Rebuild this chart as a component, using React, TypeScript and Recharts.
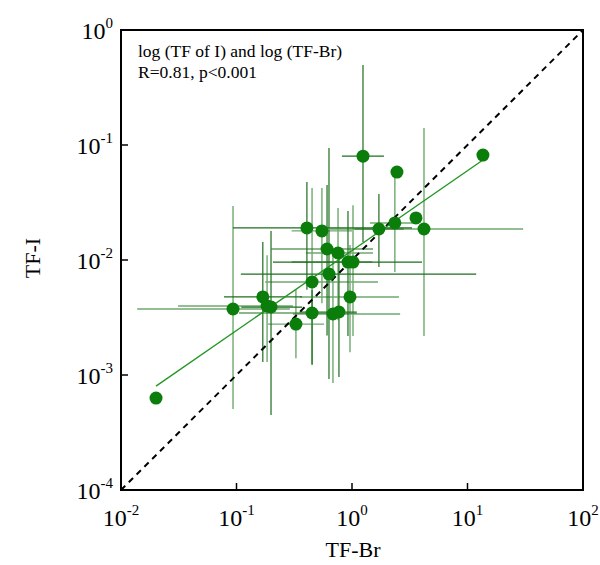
import React from 'react';
import { ScatterChart, Scatter, XAxis, YAxis, ErrorBar, ReferenceLine, ReferenceArea } from 'recharts';

// TF-Br (x) and TF-I (y) for each sample, with error ranges
const tfBr = [0.0201, 0.0933, 0.169, 0.184, 0.199, 0.327, 0.451, 0.451, 0.632, 0.684, 0.771, 0.961, 0.923, 1.02, 0.608, 0.757, 0.407, 0.549, 1.245, 2.45, 1.71, 2.35, 3.58, 4.2, 13.6];
const tfI = [0.00063, 0.00375, 0.00477, 0.00398, 0.0039, 0.00277, 0.00346, 0.00644, 0.00755, 0.00339, 0.00353, 0.00477, 0.0096, 0.0096, 0.01247, 0.0115, 0.019, 0.0179, 0.08, 0.0582, 0.0186, 0.021, 0.0232, 0.0186, 0.0818];
const brLow = [0.0201, 0.0138, 0.078, 0.0312, 0.11, 0.1875, 0.105, 0.177, 0.109, 0.308, 0.35, 0.355, 0.207, 0.3, 0.2, 0.4, 0.0933, 0.3, 0.818, 2.45, 1.05, 1.43, 3.58, 0.646, 13.6];
const brHigh = [0.0201, 0.29, 0.369, 0.308, 0.37, 0.573, 1.1, 1.68, 11.9, 2.61, 1.1, 2.55, 4.04, 1.5, 1.52, 1.52, 3.31, 1.0, 1.89, 2.45, 2.8, 3.65, 3.58, 30.3, 13.6];
const iLow = [0.00063, 0.000506, 0.0013, 0.0013, 0.000449, 0.0014, 0.00122, 0.00125, 0.000923, 0.000851, 0.000961, 0.00158, 0.00218, 0.00218, 0.0022, 0.003, 0.0055, 0.0042, 0.01435, 0.0582, 0.00869, 0.00787, 0.0232, 0.00218, 0.0818];
const iHigh = [0.00063, 0.0295, 0.01435, 0.011, 0.0179, 0.0055, 0.0055, 0.0423, 0.0942, 0.0118, 0.0123, 0.0135, 0.0267, 0.03, 0.045, 0.0283, 0.0477, 0.0423, 0.496, 0.0582, 0.0375, 0.0582, 0.0232, 0.1406, 0.0818];

// regression fit endpoints and the 1:1 (scaled) line
const fitX = [0.0201, 13.6];
const fitY = [0.0008, 0.074];
const diagX = [0.01, 100];
const diagY = [0.0001, 1];

const xTicks = [0.01, 0.1, 1, 10, 100];
const yTicks = [0.0001, 0.001, 0.01, 0.1, 1];

const FONT = '"Liberation Serif", "Times New Roman", serif';

const points = tfBr.map((x, i) => ({
  x,
  y: tfI[i],
  xErr: [x - brLow[i], brHigh[i] - x],
  yErr: [tfI[i] - iLow[i], iHigh[i] - tfI[i]],
}));

const XTick = (props: any) => {
  const { x, y, payload } = props;
  const exp = Math.round(Math.log10(payload.value));
  return (
    <g>
      <line x1={x} x2={x} y1={y} y2={y - 7} stroke="#000" strokeWidth={1.5} />
      <text x={x} y={y + 36} textAnchor="middle" fontFamily={FONT} fontSize={24} fill="#000">
        10<tspan dy={-11} fontSize={15}>{exp}</tspan>
      </text>
    </g>
  );
};

const YTick = (props: any) => {
  const { x, y, payload } = props;
  const exp = Math.round(Math.log10(payload.value));
  return (
    <g>
      <line x1={x} x2={x + 7} y1={y} y2={y} stroke="#000" strokeWidth={1.5} />
      <text x={x - 8} y={y + 9} textAnchor="end" fontFamily={FONT} fontSize={24} fill="#000">
        10<tspan dy={-11} fontSize={15}>{exp}</tspan>
      </text>
    </g>
  );
};

const Dot = (props: any) => <circle cx={props.cx} cy={props.cy} r={6.5} fill="#0b7d0b" />;
const NoDot = () => <g />;

export default function App() {
  const dark = points.filter((_, i) => i % 2 === 0);
  const light = points.filter((_, i) => i % 2 === 1);
  return (
    <div style={{ position: 'absolute', left: 0, top: 0, width: 600, height: 565, background: '#fff' }}>
      <ScatterChart width={600} height={565} margin={{ top: 30, right: 17, left: 61, bottom: 35 }}>
        <XAxis
          type="number"
          dataKey="x"
          scale="log"
          domain={[0.01, 100]}
          ticks={xTicks}
          allowDataOverflow
          height={40}
          tickSize={0}
          tickMargin={0}
          tickLine={false}
          axisLine={{ stroke: '#000', strokeWidth: 2 }}
          tick={<XTick />}
        />
        <YAxis
          type="number"
          dataKey="y"
          scale="log"
          domain={[0.0001, 1]}
          ticks={yTicks}
          allowDataOverflow
          width={60}
          tickSize={0}
          tickMargin={0}
          tickLine={false}
          axisLine={{ stroke: '#000', strokeWidth: 2 }}
          tick={<YTick />}
        />
        <ReferenceArea x1={0.01} x2={100} y1={0.0001} y2={1} fill="none" stroke="#000" strokeWidth={2} ifOverflow="visible" />
        <Scatter data={light} shape={<NoDot />} isAnimationActive={false}>
          <ErrorBar dataKey="xErr" direction="x" width={0} stroke="#6fa96f" strokeWidth={1.4} isAnimationActive={false} />
          <ErrorBar dataKey="yErr" direction="y" width={0} stroke="#6fa96f" strokeWidth={1.4} isAnimationActive={false} />
        </Scatter>
        <Scatter data={dark} shape={<NoDot />} isAnimationActive={false}>
          <ErrorBar dataKey="xErr" direction="x" width={0} stroke="#1c6e1c" strokeWidth={1.2} isAnimationActive={false} />
          <ErrorBar dataKey="yErr" direction="y" width={0} stroke="#1c6e1c" strokeWidth={1.2} isAnimationActive={false} />
        </Scatter>
        <ReferenceLine
          segment={[{ x: diagX[0], y: diagY[0] }, { x: diagX[1], y: diagY[1] }]}
          stroke="#000"
          strokeWidth={2}
          strokeDasharray="6 5"
          ifOverflow="visible"
        />
        <ReferenceLine
          segment={[{ x: fitX[0], y: fitY[0] }, { x: fitX[1], y: fitY[1] }]}
          stroke="#1f961f"
          strokeWidth={1.3}
          ifOverflow="visible"
        />
        <Scatter data={points} shape={<Dot />} isAnimationActive={false} />
      </ScatterChart>
      <svg width={600} height={565} style={{ position: 'absolute', left: 0, top: 0, pointerEvents: 'none' }}>
        <text x={138} y={57} fontFamily={FONT} fontSize={17.5} fill="#000">log (TF of I) and log (TF-Br)</text>
        <text x={138} y={78} fontFamily={FONT} fontSize={17.5} fill="#000">R=0.81, p&lt;0.001</text>
        <text x={353} y={557} textAnchor="middle" fontFamily={FONT} fontSize={22} fill="#000">TF-Br</text>
        <text transform="translate(40,258) rotate(-90)" textAnchor="middle" fontFamily={FONT} fontSize={22} fill="#000">TF-I</text>
      </svg>
    </div>
  );
}
